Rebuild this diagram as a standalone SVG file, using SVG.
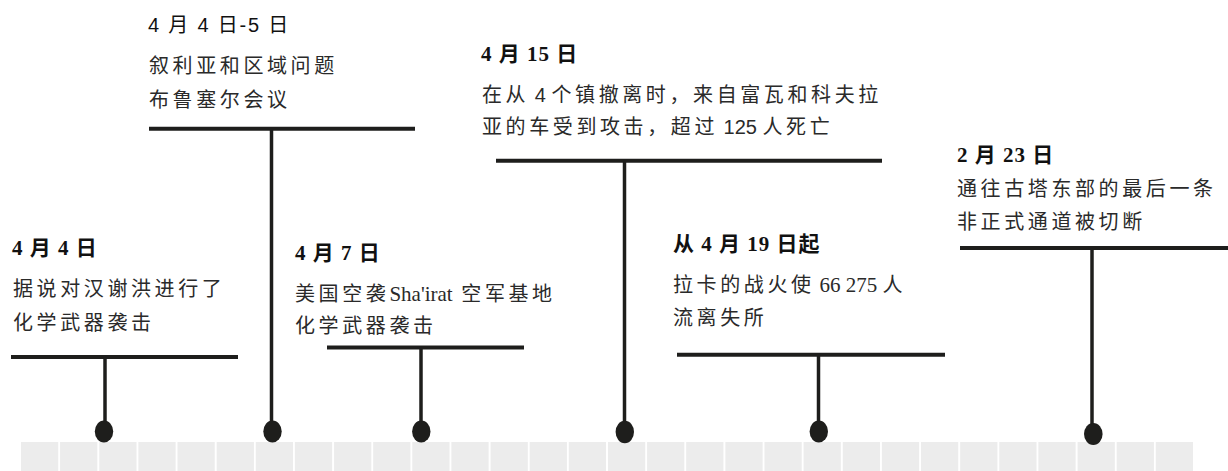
<svg xmlns="http://www.w3.org/2000/svg" width="1228" height="471" viewBox="0 0 1228 471">
<style>
.title{font-family:"Liberation Serif","Noto Sans CJK SC",serif;font-weight:bold;font-size:21px;fill:#111;letter-spacing:1px}
.stitle{font-family:"Liberation Sans","Noto Sans CJK SC",sans-serif;font-size:20px;fill:#111;letter-spacing:1.8px}
.body{font-family:"Liberation Serif","Noto Sans CJK SC",serif;font-size:20px;fill:#2a2a2a;letter-spacing:3.6px}
.lat{font-family:"Liberation Serif",serif;font-size:21px;letter-spacing:0}
.sans{font-family:"Liberation Sans",sans-serif;letter-spacing:0}
.bar{stroke:#1e1e1c;stroke-width:4;fill:none}
.stem{stroke:#1e1e1c;stroke-width:3.5;fill:none}
.dot{fill:#1e1e1c}
.cell{fill:#ececec}
</style>
<rect width="1228" height="471" fill="#fff"/>
<g id="axis">
<rect class="cell" x="21" y="442" width="37.2" height="29"/>
<rect class="cell" x="60.1" y="442" width="37.2" height="29"/>
<rect class="cell" x="99.3" y="442" width="37.2" height="29"/>
<rect class="cell" x="138.4" y="442" width="37.2" height="29"/>
<rect class="cell" x="177.5" y="442" width="37.2" height="29"/>
<rect class="cell" x="216.7" y="442" width="37.2" height="29"/>
<rect class="cell" x="255.8" y="442" width="37.2" height="29"/>
<rect class="cell" x="294.9" y="442" width="37.2" height="29"/>
<rect class="cell" x="334.1" y="442" width="37.2" height="29"/>
<rect class="cell" x="373.2" y="442" width="37.2" height="29"/>
<rect class="cell" x="412.3" y="442" width="37.2" height="29"/>
<rect class="cell" x="451.4" y="442" width="37.2" height="29"/>
<rect class="cell" x="490.6" y="442" width="37.2" height="29"/>
<rect class="cell" x="529.7" y="442" width="37.2" height="29"/>
<rect class="cell" x="568.8" y="442" width="37.2" height="29"/>
<rect class="cell" x="608" y="442" width="37.2" height="29"/>
<rect class="cell" x="647.1" y="442" width="37.2" height="29"/>
<rect class="cell" x="686.2" y="442" width="37.2" height="29"/>
<rect class="cell" x="725.4" y="442" width="37.2" height="29"/>
<rect class="cell" x="764.5" y="442" width="37.2" height="29"/>
<rect class="cell" x="803.6" y="442" width="37.2" height="29"/>
<rect class="cell" x="842.8" y="442" width="37.2" height="29"/>
<rect class="cell" x="881.9" y="442" width="37.2" height="29"/>
<rect class="cell" x="921" y="442" width="37.2" height="29"/>
<rect class="cell" x="960.2" y="442" width="37.2" height="29"/>
<rect class="cell" x="999.3" y="442" width="37.2" height="29"/>
<rect class="cell" x="1038.4" y="442" width="37.2" height="29"/>
<rect class="cell" x="1077.6" y="442" width="37.2" height="29"/>
<rect class="cell" x="1116.7" y="442" width="37.2" height="29"/>
<rect class="cell" x="1155.8" y="442" width="37.2" height="29"/>
</g>
<g id="connectors">
<line class="stem" x1="105" y1="357" x2="105" y2="431"/>
<line class="stem" x1="271.5" y1="128.7" x2="271.5" y2="431"/>
<line class="stem" x1="421" y1="347.5" x2="421" y2="431"/>
<line class="stem" x1="624.5" y1="160.7" x2="624.5" y2="432"/>
<line class="stem" x1="818.5" y1="354.7" x2="818.5" y2="431"/>
<line class="stem" x1="1092" y1="248" x2="1092" y2="434"/>
</g>
<g id="event1">
<line class="bar" x1="11" y1="357" x2="238" y2="357"/>
<ellipse class="dot" cx="104" cy="431.5" rx="9.2" ry="10.9"/>
<text class="title" x="12" y="255">4 月 4 日</text>
<text class="body" x="13" y="296">据说对汉谢洪进行了</text>
<text class="body" x="13" y="330">化学武器袭击</text>
</g>
<g id="event2">
<line class="bar" x1="149" y1="128.7" x2="415" y2="128.7"/>
<ellipse class="dot" cx="272.5" cy="431.5" rx="9.2" ry="10.9"/>
<text class="stitle" x="148" y="32">4 月 4 日-5 日</text>
<text class="body" x="149" y="73">叙利亚和区域问题</text>
<text class="body" x="149" y="107">布鲁塞尔会议</text>
</g>
<g id="event3">
<line class="bar" x1="327" y1="347.5" x2="524" y2="347.5"/>
<ellipse class="dot" cx="421.3" cy="431.5" rx="9.2" ry="10.9"/>
<text class="title" x="295" y="260">4 月 7 日</text>
<text class="body" x="295" y="301">美国空袭<tspan class="lat">Sha'irat</tspan> 空军基地</text>
<text class="body" x="295" y="333">化学武器袭击</text>
</g>
<g id="event4">
<line class="bar" x1="496" y1="160.7" x2="882" y2="160.7"/>
<ellipse class="dot" cx="624.8" cy="432" rx="9.2" ry="11.3"/>
<text class="title" x="481" y="61">4 月 15 日</text>
<text class="body" x="482" y="102">在从<tspan class="sans"> 4 </tspan>个镇撤离时，来自富瓦和科夫拉</text>
<text class="body" x="482" y="134">亚的车受到攻击，超过<tspan class="sans"> 125 </tspan>人死亡</text>
</g>
<g id="event5">
<line class="bar" x1="677" y1="354.7" x2="945" y2="354.7"/>
<ellipse class="dot" cx="818.8" cy="431.5" rx="9.2" ry="10.9"/>
<text class="title" x="673" y="251">从 4 月 19 日起</text>
<text class="body" x="673" y="292">拉卡的战火使<tspan class="lat" dx="5">66 275 </tspan>人</text>
<text class="body" x="673" y="325">流离失所</text>
</g>
<g id="event6">
<line class="bar" x1="960" y1="248" x2="1228" y2="248"/>
<ellipse class="dot" cx="1093.3" cy="434" rx="9.3" ry="11"/>
<text class="title" x="957" y="162">2 月 23 日</text>
<text class="body" x="957" y="196">通往古塔东部的最后一条</text>
<text class="body" x="957" y="229">非正式通道被切断</text>
</g>
</svg>
